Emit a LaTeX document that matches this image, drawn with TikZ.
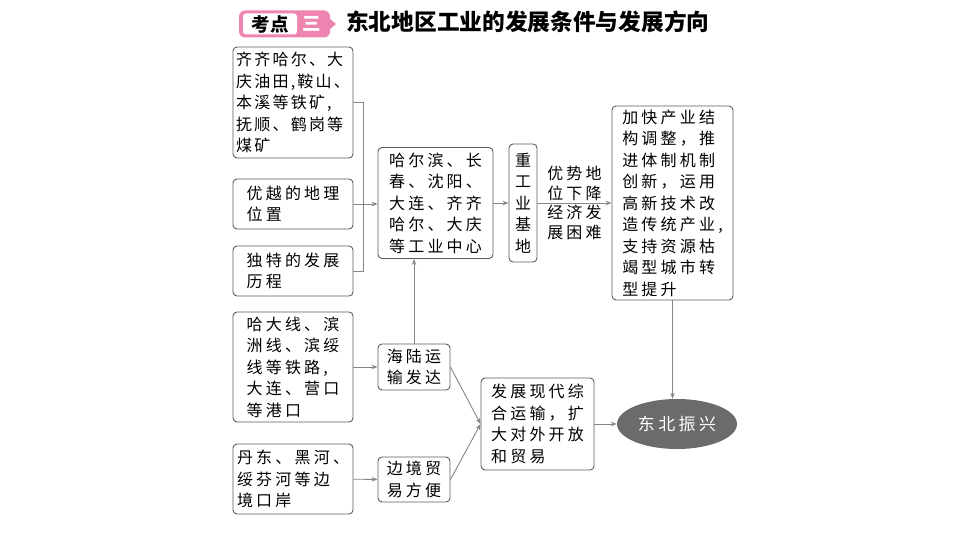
\documentclass[tikz,border=0pt]{standalone}
\usepackage{fontspec}
\setmainfont{Noto Sans CJK SC}
\newfontfamily\cjk[LetterSpace=20]{Noto Sans CJK SC}
\newfontfamily\cjktight[LetterSpace=14]{Noto Sans CJK SC}
\usetikzlibrary{arrows.meta,shapes.geometric,positioning}
\definecolor{boxline}{HTML}{5C5C5C}
\definecolor{linkgray}{HTML}{868686}
\definecolor{badgepink}{HTML}{EE84B0}
\definecolor{hubgray}{HTML}{6B6B6B}
\tikzset{
  box/.style={draw=boxline,rounded corners=4pt,line width=0.9pt,align=left,
    inner sep=2pt,font=\cjk\fontsize{16}{21.5}\selectfont},
  link/.style={draw=linkgray,line width=0.9pt,-{Stealth[linkgray,length=6pt,width=4.5pt]}},
  bare/.style={draw=linkgray,line width=0.9pt},
  tag/.style={align=left,inner sep=1pt,font=\cjk\fontsize{16}{20}\selectfont}
}
\begin{document}
\begin{tikzpicture}[x=1pt,y=-1pt]
	\useasboundingbox (0,0) rectangle (960,540);

	% heading
	\node (badge) at (284.5,24) [fill=badgepink,rounded corners=6pt,minimum width=91,minimum height=27] {};
	\fill[badgepink] (329,18) -- (336,24) -- (329,30) -- cycle;
	\node (kaodian) at (270,24) [fill=white,rounded corners=3pt,minimum width=54,minimum height=21,inner sep=0pt,
		font=\bfseries\fontsize{18.5}{18.5}\selectfont] {考点};
	\node (san) at (312,24) [text=white,inner sep=0pt,font=\bfseries\fontsize{18.5}{18.5}\selectfont] {三};
	\node (title) at (346,22) [anchor=west,inner sep=0pt,font=\bfseries\fontsize{22.7}{24}\selectfont]
		{东北地区工业的发展条件与发展方向};

	\begin{scope}[every node/.style={box}]
		\node (res) at (293,102.5) [minimum width=120,minimum height=111,inner sep=1pt,
			font=\cjktight\fontsize{16}{21.5}\selectfont]
			{齐齐哈尔、大\\庆油田,鞍山、\\本溪等铁矿,\\抚顺、鹤岗等\\煤矿};
		\node (loc) at (293,204) [minimum width=120,minimum height=50] {优越的地理\\位置};
		\node (hist) at (293,271) [minimum width=120,minimum height=50] {独特的发展\\历程};
		\node (rail) at (293,367) [minimum width=120,minimum height=110]
			{哈大线、滨\\洲线、滨绥\\线等铁路,\\大连、营口\\等港口};
		\node (port) at (293,479) [minimum width=120,minimum height=70]
			{丹东、黑河、\\绥芬河等边\\境口岸};
		\node (centers) at (435.5,203) [minimum width=115,minimum height=111]
			{哈尔滨、长\\春、沈阳、\\大连、齐齐\\哈尔、大庆\\等工业中心};
		\node (sealand) at (414,367) [minimum width=72,minimum height=46] {海陆运\\输发达};
		\node (trade) at (414,479.5) [minimum width=72,minimum height=45] {边境贸\\易方便};
		\node (base) at (523,203) [minimum width=28,minimum height=118,align=center,inner sep=0pt]
			{重\\工\\业\\基\\地};
		\node (measures) at (672.5,203) [minimum width=121,minimum height=194]
			{加快产业结\\构调整，推\\进体制机制\\创新，运用\\高新技术改\\造传统产业,\\支持资源枯\\竭型城市转\\型提升};
		\node (openup) at (537.5,424) [minimum width=113,minimum height=92]
			{发展现代综\\合运输，扩\\大对外开放\\和贸易};
	\end{scope}

	\node (revive) at (677,424) [ellipse,fill=hubgray,minimum width=120,minimum height=50,inner sep=0pt,
		text=white,font=\cjk\fontsize{17}{20}\selectfont] {东北振兴};

	% connectors
	\coordinate (brk) at (363,0);
	\draw[bare] (res.east) -- (res.east -| brk) -- (hist.east -| brk) -- (hist.east);
	\draw[link] (loc.east) -- (loc.east -| centers.west);
	\draw[link] (centers) -- (base);
	\draw[link] (base) -- node[tag,above=1pt] {优势地\\位下降} node[tag,below=1pt] {经济发\\展困难} (measures);
	\draw[link] (measures.south) -- (measures.south |- revive.north);
	\draw[link] (rail) -- (sealand);
	\draw[link] (port) -- (trade);
	\draw[link] (sealand.north) -- (sealand.north |- centers.south);
	\draw[link] (sealand.east) -- (openup.west);
	\draw[link] (trade.east) -- (openup.west);
	\draw[link] (openup) -- (revive);
\end{tikzpicture}
\end{document}
